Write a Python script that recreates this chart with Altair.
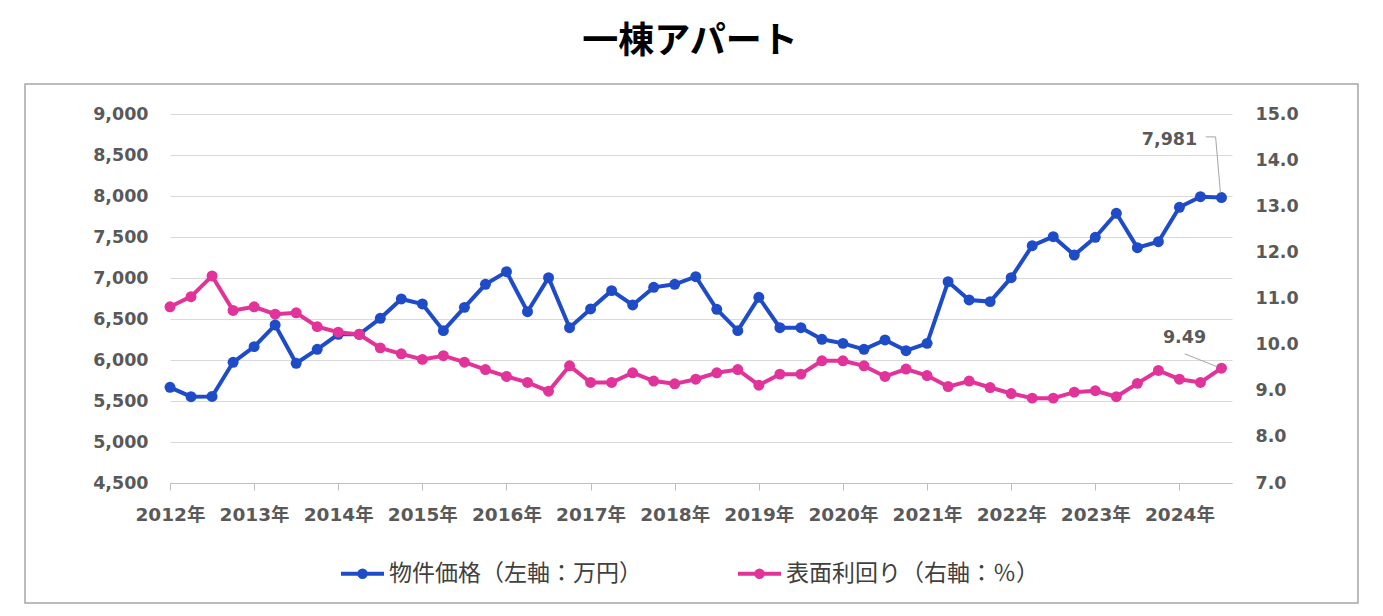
import altair as alt
import pandas as pd

# ---- data ----
years = list(range(2012, 2025))
year_labels = [f"{y}年" for y in years]
quarters = [f"{y}Q{q}" for y in years for q in range(1, 5)][:51]

price = [5667, 5553, 5555, 5972,
         6163, 6427, 5960, 6130,
         6313, 6313, 6508, 6744,
         6683, 6358, 6642, 6923,
         7077, 6589, 7004, 6394,
         6622, 6846, 6671, 6886,
         6923, 7016, 6618, 6358,
         6764, 6394, 6394, 6252,
         6203, 6130, 6244, 6114,
         6203, 6955, 6732, 6712,
         7004, 7394, 7504, 7280,
         7496, 7789, 7370, 7443,
         7862, 7992, 7981]

yield_pct = [10.82, 11.04, 11.49, 10.74,
             10.82, 10.66, 10.69, 10.39,
             10.27, 10.22, 9.93, 9.80,
             9.68, 9.76, 9.62, 9.46,
             9.31, 9.18, 8.99, 9.54,
             9.18, 9.18, 9.39, 9.21,
             9.15, 9.25, 9.39, 9.46,
             9.12, 9.36, 9.36, 9.65,
             9.65, 9.54, 9.31, 9.47,
             9.33, 9.09, 9.21, 9.07,
             8.94, 8.84, 8.84, 8.97,
             9.00, 8.87, 9.16, 9.44,
             9.25, 9.18, 9.49]

series_names = ["物件価格（左軸：万円）", "表面利回り（右軸：％）"]
series_colors = ["#1E4BC8", "#E2339A"]
left_ticks = list(range(4500, 9001, 500))
right_ticks = list(range(7, 16))

idx = list(range(len(quarters)))
df_price = pd.DataFrame({"i": idx, "q": quarters, "v": price, "s": series_names[0]})
df_yield = pd.DataFrame({"i": idx, "q": quarters, "v": yield_pct, "s": series_names[1]})

last_i = idx[-1]
df_price_last = pd.DataFrame({"i": [last_i], "v": [price[-1]], "t": [f"{price[-1]:,}"]})
df_yield_last = pd.DataFrame({"i": [last_i], "v": [yield_pct[-1]], "t": [f"{yield_pct[-1]:.2f}"]})
# leader lines (data coordinates, relative to last point)
df_price_lead = pd.DataFrame({"i": [last_i - 0.75, last_i - 0.28, last_i - 0.05],
                              "v": [price[-1] + 740, price[-1] + 740, price[-1] + 60]})
df_yield_lead = pd.DataFrame({"i": [last_i - 1.75, last_i - 0.2],
                              "v": [yield_pct[-1] + 0.31, yield_pct[-1] + 0.03]})

FONT_NUM = "DejaVu Sans, Noto Sans CJK JP"
FONT_JP = "Noto Sans CJK JP"
GRAY = "#595959"

x_ticks = [i * 4 for i in range(len(years))]
label_arr = "[" + ",".join(f"'{s}'" for s in year_labels) + "]"
x_scale = alt.Scale(domain=[0, 50.5], nice=False, zero=False)
y_left_scale = alt.Scale(domain=[4500, 9000], nice=False, zero=False)
y_right_scale = alt.Scale(domain=[7, 15], nice=False, zero=False)

x_axis = alt.Axis(values=x_ticks, labelExpr=f"{label_arr}[round(datum.value/4)]",
                  title=None, grid=False, domain=True, domainColor="#BFBFBF",
                  ticks=True, tickColor="#BFBFBF", tickSize=7, labelPadding=15,
                  labelFont=FONT_NUM, labelFontSize=18.5, labelFontWeight="bold",
                  labelColor=GRAY, labelFlush=False)
y_left_axis = alt.Axis(values=left_ticks, format=",d", title=None,
                       orient="left", grid=True, gridColor="#D9D9D9", domain=False,
                       ticks=False, labelPadding=22, labelFont=FONT_NUM,
                       labelFontSize=17.5, labelFontWeight="bold", labelColor=GRAY)
y_right_axis = alt.Axis(values=right_ticks, format=".1f", title=None,
                        orient="right", grid=False, domain=False, ticks=False,
                        labelPadding=23, labelFont=FONT_NUM, labelFontSize=17.5,
                        labelFontWeight="bold", labelColor=GRAY)

x_enc = alt.X("i:Q", scale=x_scale, axis=x_axis)
yl_enc = alt.Y("v:Q", scale=y_left_scale, axis=y_left_axis)
yr_enc = alt.Y("v:Q", scale=y_right_scale, axis=y_right_axis)

color_enc = alt.Color("s:N", scale=alt.Scale(domain=series_names, range=series_colors),
                      legend=alt.Legend(title=None, orient="none", direction="horizontal",
                                        legendX=169, legendY=436,
                                        symbolType="M-1,0H1M-0.15,0A0.15,0.15,0,1,0,0.15,0A0.15,0.15,0,1,0,-0.15,0Z",
                                        symbolSize=1849, symbolStrokeWidth=4,
                                        labelFont=FONT_JP, labelFontSize=23, labelColor="#404040",
                                        labelOffset=3, columnPadding=88, padding=0,
                                        labelLimit=400))

price_line = alt.Chart(df_price).mark_line(
    strokeWidth=4, point=alt.OverlayMarkDef(filled=True, size=120)
).encode(x=x_enc, y=yl_enc, color=color_enc)
price_lead = alt.Chart(df_price_lead).mark_line(color="#A6A6A6", strokeWidth=1).encode(
    x=x_enc, y=yl_enc)
price_text = alt.Chart(df_price_last).mark_text(
    dx=-52, dy=-58, font=FONT_NUM, fontSize=17.5, fontWeight="bold", color=GRAY
).encode(x=x_enc, y=yl_enc, text="t:N")

left = alt.layer(price_line, price_lead, price_text)

yield_line = alt.Chart(df_yield).mark_line(
    strokeWidth=4, point=alt.OverlayMarkDef(filled=True, size=120)
).encode(x=x_enc, y=yr_enc, color=color_enc)
yield_lead = alt.Chart(df_yield_lead).mark_line(color="#A6A6A6", strokeWidth=1).encode(
    x=x_enc, y=yr_enc)
yield_text = alt.Chart(df_yield_last).mark_text(
    dx=-37, dy=-30, font=FONT_NUM, fontSize=17.5, fontWeight="bold", color=GRAY
).encode(x=x_enc, y=yr_enc, text="t:N")

right = alt.layer(yield_line, yield_lead, yield_text)

frame = alt.Chart(alt.Data(values=[{}])).mark_rect(
    fill="transparent", stroke="#A6A6A6", strokeWidth=1.5
).encode(x=alt.value(-145), x2=alt.value(1188), y=alt.value(-30), y2=alt.value(489))

chart = alt.layer(frame, left, right).resolve_scale(y="independent").properties(
    width=1062, height=369,
    title=alt.TitleParams("一棟アパート", font=FONT_JP, fontSize=36, fontWeight="bold",
                          color="#000000", anchor="middle", dx=-11, offset=22),
    padding={"left": 162, "top": 106, "right": 140, "bottom": 125},
    autosize=alt.AutoSizeParams(type="none"),
).configure_view(stroke=None)

chart.save("out.html", embed_options={"renderer": "svg", "actions": False})
